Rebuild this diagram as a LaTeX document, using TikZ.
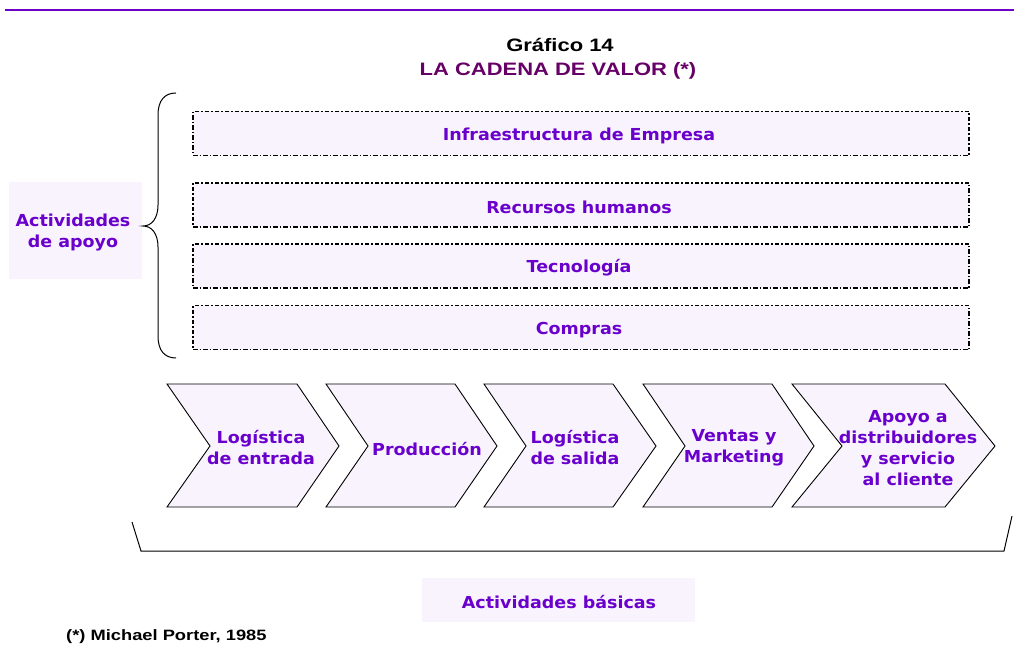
\documentclass[tikz,border=0pt]{standalone}
\usepackage{fontspec}
\setmainfont[FakeStretch=1.06]{DejaVu Sans}
\newfontfamily\arialw[FakeStretch=1.22]{Liberation Sans}
\definecolor{violeta}{RGB}{106,0,204}
\definecolor{ciruela}{RGB}{102,0,102}
\definecolor{lila}{RGB}{249,243,254}
\definecolor{linea}{RGB}{110,0,200}
\begin{document}
\begin{tikzpicture}[x=1pt,y=-1pt,
  ptxt/.style={font=\fontsize{16.5}{21}\selectfont\bfseries, text=violeta, align=center, inner sep=0pt},
  supbox/.style={draw=black, fill=lila, line width=1.4pt,
     dash pattern=on 4.5pt off 2pt on 1.5pt off 2pt,
     minimum width=776pt, minimum height=44pt, inner sep=0pt},
  labbox/.style={fill=lila, inner sep=0pt},
  chev/.style={draw=black, fill=lila, line width=0.9pt, line join=miter},
  brk/.style={draw=black, line width=1pt}
]
\useasboundingbox (0,0) rectangle (1014,668);
\fill[white] (0,0) rectangle (1014,668);
% top rule
\draw[linea, line width=2pt] (5,10) -- (1014,10);
% titles
\node[font=\arialw\fontsize{18}{20}\selectfont\bfseries, anchor=base] (t1) at (560,52) {Gráfico 14};
\node[font=\arialw\fontsize{18}{20}\selectfont\bfseries, text=ciruela, anchor=base] (t2) at (558,76) {LA CADENA DE VALOR (*)};
% support activities
\node[supbox] (b1) at (581,133.5) {};
\node[supbox] (b2) at (581,205) {};
\node[supbox] (b3) at (581,266) {};
\node[supbox] (b4) at (581,327.5) {};
\node[ptxt] (tb1) at (579,135.5) {Infraestructura de Empresa};
\node[ptxt] (tb2) at (579,207) {Recursos humanos};
\node[ptxt] (tb3) at (579,268) {Tecnología};
\node[ptxt] (tb4) at (579,330) {Compras};
% label left
\node[labbox, minimum width=133pt, minimum height=97pt] (apoyo) at (75.5,230.5) {};
\node[ptxt] (apoyot) at (73,233) {Actividades\\de apoyo};
% brace
\draw[brk] (176,93) .. controls (165,93) and (158,100) .. (158,115) -- (158,205)
  .. controls (158,218) and (152,226) .. (143,226)
  .. controls (152,226) and (158,234) .. (158,247) -- (158,336)
  .. controls (158,351) and (165,358) .. (176,358);
% chevrons
\foreach \l/\n/\r/\t in {167/210/297/339, 326/368/455/497, 484/526/613/656, 643/685/772/814, 792/842/945/995}{
  \draw[chev] (\l,384) -- (\r,384) -- (\t,446) -- (\r,507) -- (\l,507) -- (\n,446) -- cycle;
}
\node[ptxt] (c1) at (261,448) {Logística\\de entrada};
\node[ptxt] (c2) at (427,449) {Producción};
\node[ptxt] (c3) at (575,448) {Logística\\de salida};
\node[ptxt] (c4) at (734,448) {Ventas y\\Marketing};
\node[ptxt] (c5) at (908,448) {Apoyo a\\distribuidores\\y servicio\\al cliente};
% bottom bracket
\draw[brk] (132,522) -- (141,551) -- (1004,551) -- (1012,516);
% basic activities label
\node[labbox, minimum width=273pt, minimum height=44pt] (basic) at (558.5,600) {};
\node[ptxt] (basict) at (559,602.5) {Actividades básicas};
% footnote
\node[font=\arialw\fontsize{15}{16}\selectfont\bfseries, anchor=base west, inner sep=0pt] (fn) at (66,640) {(*) Michael Porter, 1985};
\end{tikzpicture}
\end{document}
